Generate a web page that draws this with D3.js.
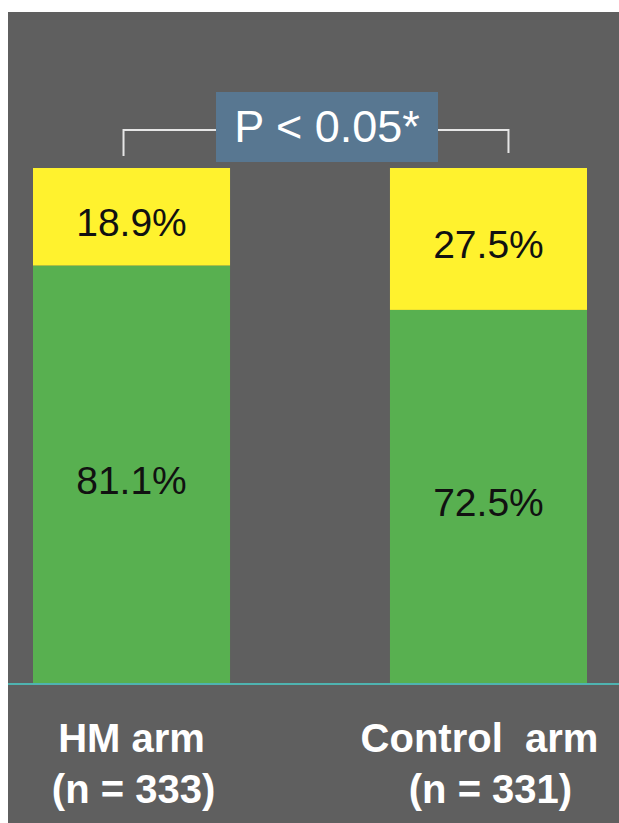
<!DOCTYPE html>
<html>
<head>
<meta charset="utf-8">
<script src="https://cdn.jsdelivr.net/npm/d3@7"></script>
<style>
  html, body { margin: 0; padding: 0; background: #ffffff; }
  svg { display: block; }
</style>
</head>
<body>
<div id="chart"></div>
<script>
// chart values
var arms = ["HM arm", "Control arm"];
var armCounts = ["(n = 333)", "(n = 331)"];
var greenValues = [81.1, 72.5];
var yellowValues = [18.9, 27.5];
var pLabel = "P < 0.05*";

var svgWidth = 619;
var svgHeight = 823;

var svg = d3.select("#chart")
    .append("svg")
    .attr("width", svgWidth)
    .attr("height", svgHeight);

// gray panel
svg.append("rect")
    .attr("x", 8)
    .attr("y", 12)
    .attr("width", svgWidth - 8)
    .attr("height", svgHeight - 12)
    .attr("fill", "#5f5f5f");

// scales
var xScale = d3.scaleBand()
    .domain(arms)
    .range([33, 587])
    .paddingInner(0.448)
    .paddingOuter(0);

var yScale = d3.scaleLinear()
    .domain([0, 100])
    .range([684, 168]);

// build stacked data
var rows = arms.map(function(arm, i) {
    return { arm: arm, green: greenValues[i], yellow: yellowValues[i] };
});
var stack = d3.stack().keys(["green", "yellow"]);
var series = stack(rows);
var colors = { green: "#58b050", yellow: "#fff22e" };

var barGroup = svg.append("g");

series.forEach(function(s) {
    barGroup.selectAll(".bar-" + s.key)
        .data(s)
        .enter()
        .append("rect")
        .attr("class", "bar-" + s.key)
        .attr("x", d => xScale(d.data.arm))
        .attr("y", d => yScale(d[1]))
        .attr("width", xScale.bandwidth())
        .attr("height", d => yScale(d[0]) - yScale(d[1]))
        .attr("fill", colors[s.key]);

    // percentage labels
    barGroup.selectAll(".label-" + s.key)
        .data(s)
        .enter()
        .append("text")
        .attr("class", "label-" + s.key)
        .attr("x", d => xScale(d.data.arm) + xScale.bandwidth() / 2)
        .attr("y", d => (yScale(d[0]) + yScale(d[1])) / 2)
        .attr("dy", "0.5em")
        .attr("text-anchor", "middle")
        .attr("font-family", "'Liberation Sans', Arial, sans-serif")
        .attr("font-size", "39px")
        .attr("fill", "#111111")
        .text(d => d.data[s.key].toFixed(1) + "%");
});

// baseline
svg.append("line")
    .attr("x1", 8)
    .attr("x2", svgWidth)
    .attr("y1", yScale(0))
    .attr("y2", yScale(0))
    .attr("stroke", "#4fb3b0")
    .attr("stroke-width", 2);

// category labels
var catLabels = svg.append("g")
    .attr("font-family", "'Liberation Sans', Arial, sans-serif")
    .attr("font-size", "40px")
    .attr("font-weight", "bold")
    .attr("fill", "#ffffff")
    .attr("text-anchor", "middle");

catLabels.selectAll(".arm")
    .data(arms)
    .enter()
    .append("text")
    .attr("class", "arm")
    .attr("x", (d, i) => xScale(d) + xScale.bandwidth() / 2 - (i === 1 ? 9 : 0))
    .attr("y", 752)
    .text(d => d.replace(" arm", "\u00a0 arm").replace("HM\u00a0 arm", "HM arm"));

catLabels.selectAll(".count")
    .data(armCounts)
    .enter()
    .append("text")
    .attr("class", "count")
    .attr("x", (d, i) => xScale(arms[i]) + xScale.bandwidth() / 2 + 2)
    .attr("y", 803)
    .text(d => d);

// significance bracket
var leftX = xScale(arms[0]) + xScale.bandwidth() / 2 - 8;
var rightX = xScale(arms[1]) + xScale.bandwidth() / 2 + 20;
var bracketY = 130;

svg.append("path")
    .attr("d", "M" + leftX + "," + (bracketY + 26) + "V" + bracketY + "H" + rightX + "V" + (bracketY + 23))
    .attr("fill", "none")
    .attr("stroke", "#e6e6e6")
    .attr("stroke-width", 2);

svg.append("rect")
    .attr("x", 216)
    .attr("y", 92)
    .attr("width", 222)
    .attr("height", 70)
    .attr("fill", "#587791");

svg.append("text")
    .attr("x", 327)
    .attr("y", 142)
    .attr("text-anchor", "middle")
    .attr("font-family", "'Liberation Sans', Arial, sans-serif")
    .attr("font-size", "45px")
    .attr("fill", "#ffffff")
    .text(pLabel);
</script>
</body>
</html>
